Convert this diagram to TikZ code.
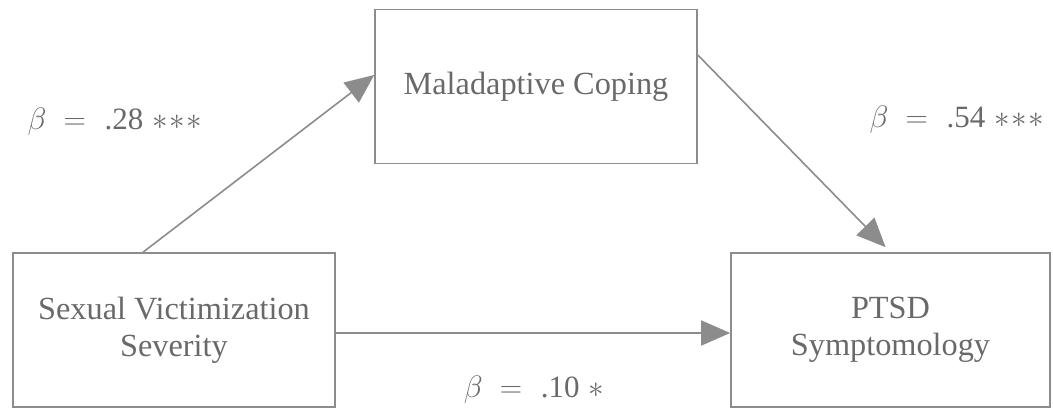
\RequirePackage{fix-cm}
\documentclass[tikz,border=0pt]{standalone}
\usepackage{fontspec}
\setmainfont{Liberation Serif}
\usepackage{xcolor}
\usepackage{tikz}
\usetikzlibrary{arrows.meta}
\definecolor{linegray}{RGB}{140,140,140}
\definecolor{textgray}{RGB}{105,105,105}
\newcommand{\coef}[2]{$\beta\;=\;$\hspace{10pt}#1\hspace{9pt}$#2$}

\begin{document}
\begin{tikzpicture}[x=1pt, y=-1pt,
  box/.style={rectangle, draw=linegray, line width=1.6pt, minimum width=322pt, minimum height=154pt, align=center, text=textgray, font=\fontsize{32.3}{37}\selectfont, inner sep=0pt},
  arr/.style={-{Triangle[length=29pt, width=25pt]}, line width=1.6pt, draw=linegray, fill=linegray},
  lbl/.style={text=textgray, font=\fontsize{31}{36}\selectfont, inner sep=0pt}
]
\useasboundingbox (0,0) rectangle (1053,410);
\node[box] (coping) at (536,86.5) {Maladaptive Coping};
\node[box] (sev) at (174,330) {Sexual Victimization\\Severity};
\node[box, minimum width=319pt] (ptsd) at (890.5,330) {PTSD\\Symptomology};

\node[lbl] (b1) at (115,122) {\coef{.28}{\ast\!\ast\!\ast}};
\node[lbl] (b2) at (957,120) {\coef{.54}{\ast\!\ast\!\ast}};
\node[lbl] (b3) at (534,390) {\coef{.10}{\ast}};

\draw[arr] ([xshift=-31pt]sev.north) -- ([yshift=11.5pt]coping.west);
\draw[arr, shorten >=7pt] ([yshift=31.5pt]coping.east) -- (ptsd.north);
\draw[arr] ([yshift=-3pt]sev.east) -- ([yshift=-3pt]ptsd.west);
\end{tikzpicture}
\end{document}
